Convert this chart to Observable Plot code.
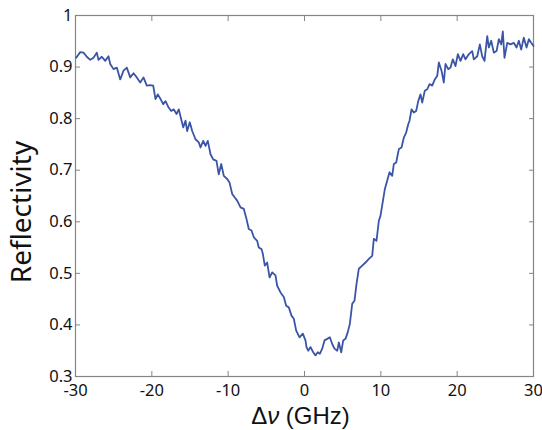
<!DOCTYPE html>
<html>
<head>
<meta charset="utf-8">
<script src="https://cdn.jsdelivr.net/npm/d3@7"></script>
<script src="https://cdn.jsdelivr.net/npm/@observablehq/plot@0.6"></script>
<style>
  html, body { margin: 0; padding: 0; background: #fff; }
  #chart { width: 542px; height: 430px; }
</style>
</head>
<body>
<div id="chart"></div>
<script>
const nu = [
  -29.91, -29.38, -28.95, -28.52, -28.07, -27.64, -27.21, -26.99, -26.55, -26.11,
  -25.68, -25.45, -25.02, -24.59, -24.14, -23.71, -23.28, -22.83, -22.40, -21.97,
  -21.52, -21.09, -20.66, -20.21, -19.82, -19.52, -19.22, -18.86, -18.51, -18.21,
  -17.78, -17.46, -17.12, -16.77, -16.47, -16.15, -15.89, -15.59, -15.37, -15.03,
  -14.71, -14.28, -13.85, -13.62, -13.27, -12.97, -12.67, -12.31, -11.96, -11.53,
  -11.23, -10.91, -10.57, -10.13, -9.82, -9.47, -9.13, -8.82, -8.38, -7.95,
  -7.64, -7.30, -6.94, -6.64, -6.20, -5.99, -5.63, -5.46, -5.20, -4.89,
  -4.58, -4.23, -3.80, -3.58, -3.14, -2.71, -2.40, -2.06, -1.70, -1.40,
  -1.09, -0.65, -0.22, 0.13, 0.26, 0.49, 0.79, 1.14, 1.44, 1.74,
  2.01, 2.32, 2.62, 2.98, 3.32, 3.63, 3.93, 4.29, 4.50, 4.81,
  5.07, 5.37, 5.67, 5.94, 6.25, 6.55, 6.81, 7.12, 7.56, 7.99,
  8.43, 8.87, 9.08, 9.43, 9.74, 9.96, 10.31, 10.52, 10.84, 11.14,
  11.49, 11.70, 12.01, 12.36, 12.71, 13.01, 13.32, 13.59, 13.76, 14.02,
  14.32, 14.63, 14.90, 15.20, 15.42, 15.76, 16.08, 16.38, 16.73, 17.07,
  17.39, 17.60, 17.95, 18.25, 18.47, 18.83, 19.13, 19.43, 19.78, 20.09,
  20.44, 20.79, 21.09, 21.53, 21.97, 22.18, 22.63, 22.97, 23.28, 23.58,
  23.94, 24.15, 24.46, 24.80, 25.16, 25.46, 25.77, 25.98, 26.20, 26.56,
  26.99, 27.42, 27.78, 28.08, 28.39, 28.73, 29.09, 29.39, 29.70, 30.00
];
const reflectivity = [
  0.918, 0.929, 0.928, 0.920, 0.914, 0.918, 0.928, 0.914, 0.920, 0.912,
  0.921, 0.906, 0.896, 0.899, 0.876, 0.893, 0.899, 0.880, 0.888, 0.880,
  0.870, 0.880, 0.864, 0.865, 0.864, 0.838, 0.847, 0.838, 0.828, 0.834,
  0.821, 0.815, 0.818, 0.809, 0.818, 0.799, 0.783, 0.796, 0.776, 0.793,
  0.776, 0.760, 0.754, 0.744, 0.757, 0.747, 0.757, 0.731, 0.721, 0.718,
  0.692, 0.712, 0.689, 0.683, 0.676, 0.654, 0.647, 0.641, 0.628, 0.625,
  0.608, 0.586, 0.583, 0.570, 0.563, 0.550, 0.547, 0.538, 0.515, 0.521,
  0.492, 0.502, 0.496, 0.476, 0.463, 0.454, 0.437, 0.434, 0.418, 0.412,
  0.389, 0.376, 0.383, 0.370, 0.357, 0.350, 0.357, 0.347, 0.341, 0.347,
  0.344, 0.354, 0.370, 0.373, 0.376, 0.363, 0.354, 0.350, 0.366, 0.347,
  0.370, 0.373, 0.386, 0.402, 0.441, 0.447, 0.479, 0.509, 0.515, 0.521,
  0.528, 0.534, 0.567, 0.563, 0.602, 0.612, 0.644, 0.663, 0.680, 0.696,
  0.689, 0.712, 0.715, 0.741, 0.744, 0.763, 0.773, 0.789, 0.796, 0.818,
  0.812, 0.815, 0.834, 0.847, 0.831, 0.854, 0.857, 0.867, 0.864, 0.876,
  0.883, 0.909, 0.893, 0.870, 0.906, 0.896, 0.899, 0.915, 0.902, 0.925,
  0.912, 0.925, 0.915, 0.925, 0.931, 0.915, 0.921, 0.944, 0.921, 0.912,
  0.960, 0.938, 0.951, 0.928, 0.931, 0.954, 0.944, 0.969, 0.918, 0.947,
  0.944, 0.947, 0.938, 0.951, 0.934, 0.957, 0.938, 0.954, 0.947, 0.941
];
const xTicks = [-30, -20, -10, 0, 10, 20, 30];
const yTicks = [0.3, 0.4, 0.5, 0.6, 0.7, 0.8, 0.9, 1];
const xLabel = "Δν (GHz)";
const yLabel = "Reflectivity";

const data = nu.map((v, i) => ({nu: v, r: reflectivity[i]}));
const axisColor = "#858585";
const lineColor = "#3a55a6";
const font = "'Noto Sans', 'Open Sans', sans-serif";

const chart = Plot.plot({
  width: 542,
  height: 430,
  marginLeft: 75,
  marginRight: 9,
  marginTop: 15,
  marginBottom: 54,
  style: {fontFamily: font, fontSize: "16px", color: "#111", background: "#fff"},
  x: {domain: [-30, 30], label: null},
  y: {domain: [0.3, 1], label: null},
  marks: [
    Plot.axisX({anchor: "bottom", ticks: xTicks, tickSize: 5, dy: -5, stroke: axisColor, tickFormat: () => "", label: null}),
    Plot.axisX({anchor: "top", ticks: xTicks, tickSize: 5, dy: 5, stroke: axisColor, tickFormat: () => "", label: null}),
    Plot.axisY({anchor: "left", ticks: yTicks, tickSize: 5, dx: 5, stroke: axisColor, tickFormat: () => "", label: null}),
    Plot.axisY({anchor: "right", ticks: yTicks, tickSize: 5, dx: -5, stroke: axisColor, tickFormat: () => "", label: null}),
    Plot.axisX({anchor: "bottom", ticks: xTicks, tickSize: 0, tickPadding: 8, tickFormat: d => String(d), label: null, fontSize: 16.5}),
    Plot.axisY({anchor: "left", ticks: yTicks, tickSize: 0, tickPadding: 3, tickFormat: d => String(d), label: null, fontSize: 16.5}),
    Plot.frame({stroke: axisColor, strokeWidth: 1.2}),
    Plot.line(data, {x: "nu", y: "r", stroke: lineColor, strokeWidth: 1.8, strokeLinejoin: "round"}),
    Plot.text([yLabel], {frameAnchor: "left", rotate: -90, dx: -53, dy: 16, fontSize: 28, lineAnchor: "middle", textAnchor: "middle", fill: "#111"}),
    Plot.text([xLabel], {frameAnchor: "bottom", dy: 40, dx: -4, fontSize: 24, fontFamily: "'Liberation Sans', Arial, sans-serif", lineAnchor: "middle", textAnchor: "middle", fill: "#111"})
  ]
});
document.getElementById("chart").appendChild(chart);
// italic nu in the x label, kept as real text
chart.querySelectorAll("text").forEach(t => {
  if (t.textContent === xLabel) {
    t.textContent = "";
    const ns = "http://www.w3.org/2000/svg";
    const a = document.createElementNS(ns, "tspan"); a.textContent = "Δ";
    const b = document.createElementNS(ns, "tspan"); b.textContent = "ν"; b.setAttribute("font-style", "italic");
    const c = document.createElementNS(ns, "tspan"); c.textContent = " (GHz)";
    t.append(a, b, c);
  }
});
</script>
</body>
</html>
